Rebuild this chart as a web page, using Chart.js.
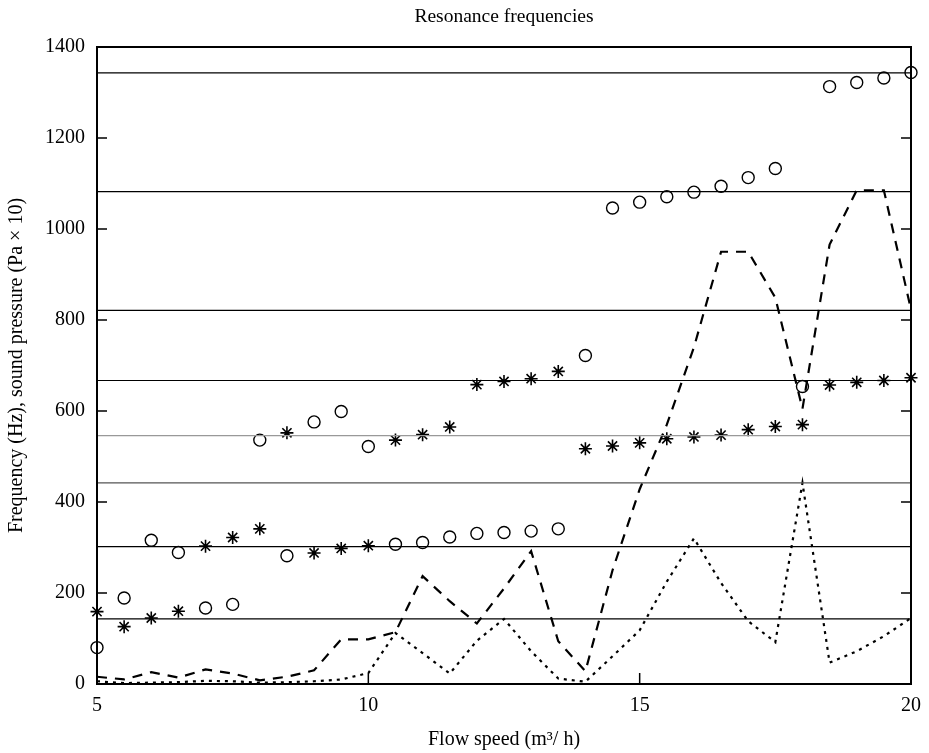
<!DOCTYPE html>
<html>
<head>
<meta charset="utf-8">
<script src="https://cdn.jsdelivr.net/npm/chart.js@4.4.1/dist/chart.umd.min.js"></script>
<style>
  body { margin: 0; background: #fff; }
</style>
</head>
<body>
<canvas id="resChart" width="929" height="753"></canvas>
<script>
// velocidad de flujo (m3/h)
const flowSpeed = [5, 5.5, 6, 6.5, 7, 7.5, 8, 8.5, 9, 9.5, 10, 10.5, 11, 11.5, 12, 12.5,
  13, 13.5, 14, 14.5, 15, 15.5, 16, 16.5, 17, 17.5, 18, 18.5, 19, 19.5, 20];

// frecuencias medidas (o)
const circleFreq = [80, 189, 316, 289, 167, 175, 536, 282, 576, 599, 522, 307, 311, 323, 331, 333,
  336, 341, 722, 1046, 1059, 1071, 1081, 1094, 1113, 1133, 654, 1313, 1322, 1332, 1344];

// frecuencias medidas (*)
const starFreq = [159, 126, 145, 160, 303, 322, 341, 552, 288, 298, 304, 536, 548, 565, 658, 665,
  671, 687, 517, 523, 530, 539, 543, 547, 559, 566, 570, 657, 663, 667, 673];

// presion sonora (Pa x 10), linea de trazos
const pressureDashed = [16, 10, 26, 14, 32, 23, 8, 16, 30, 98, 98, 114, 237, 182, 133, 210,
  292, 94, 28, 250, 428, 570, 740, 950, 950, 849, 605, 966, 1085, 1085, 823];

// presion sonora (Pa x 10), linea de puntos
const pressureDotted = [6, 2, 3, 4, 7, 6, 3, 4, 6, 10, 24, 112, 68, 23, 95, 143,
  72, 12, 5, 61, 118, 225, 320, 222, 138, 92, 442, 47, 72, 105, 145];

// frecuencias de resonancia (lineas horizontales)
const refLines = [143, 302, 442, 546, 667, 821, 1082, 1343];

const xTicks = [5, 10, 15, 20];
const yTicks = [0, 200, 400, 600, 800, 1000, 1200, 1400];

const serif = '"Liberation Serif", "DejaVu Serif", serif';
const refColors = ['#000', '#000', '#555', '#999', '#000', '#000', '#000', '#000'];

function toPoints(values) {
  return values.map((v, i) => ({ x: flowSpeed[i], y: v }));
}

const datasets = [];

refLines.forEach((v, i) => {
  datasets.push({
    data: [{ x: xTicks[0], y: v }, { x: xTicks[xTicks.length - 1], y: v }],
    showLine: true,
    borderColor: refColors[i],
    borderWidth: 1.2,
    pointRadius: 0
  });
});

datasets.push({
  data: toPoints(pressureDashed),
  showLine: true,
  borderColor: '#000',
  borderWidth: 2.2,
  borderDash: [10, 8],
  pointRadius: 0
});

datasets.push({
  data: toPoints(pressureDotted),
  showLine: true,
  borderColor: '#000',
  borderWidth: 2.2,
  borderDash: [3, 5],
  pointRadius: 0
});

datasets.push({
  data: toPoints(circleFreq),
  pointStyle: 'circle',
  pointRadius: 6,
  borderColor: '#000',
  borderWidth: 1.4,
  backgroundColor: 'rgba(0,0,0,0)',
  clip: false
});

datasets.push({
  data: toPoints(starFreq),
  pointStyle: 'star',
  pointRadius: 6.5,
  borderColor: '#000',
  borderWidth: 1.6,
  clip: false
});

// marco, marcas hacia adentro y titulo
const framePlugin = {
  id: 'frame',
  afterDraw(chart) {
    const { ctx, chartArea: a, scales } = chart;
    ctx.save();
    ctx.strokeStyle = '#000';
    ctx.lineWidth = 2;
    ctx.strokeRect(a.left, a.top, a.right - a.left, a.bottom - a.top);

    ctx.lineWidth = 1.5;
    ctx.beginPath();
    yTicks.slice(1, -1).forEach(v => {
      const y = scales.y.getPixelForValue(v);
      ctx.moveTo(a.left, y);
      ctx.lineTo(a.left + 10, y);
      ctx.moveTo(a.right, y);
      ctx.lineTo(a.right - 10, y);
    });
    xTicks.slice(1, -1).forEach(v => {
      const x = scales.x.getPixelForValue(v);
      ctx.moveTo(x, a.bottom);
      ctx.lineTo(x, a.bottom - 11);
    });
    ctx.stroke();

    ctx.fillStyle = '#000';
    ctx.font = '19.5px ' + serif;
    ctx.textAlign = 'center';
    ctx.textBaseline = 'middle';
    ctx.fillText('Resonance frequencies', (a.left + a.right) / 2, 17);
    ctx.restore();
  }
};

const ctx = document.getElementById('resChart');
const chart = new Chart(ctx, {
  type: 'scatter',
  data: { datasets },
  plugins: [framePlugin],
  options: {
    responsive: false,
    devicePixelRatio: 1,
    animation: false,
    layout: { padding: { top: 47, right: 18, left: 0, bottom: 0 } },
    plugins: {
      legend: { display: false },
      tooltip: { enabled: false }
    },
    scales: {
      x: {
        type: 'linear',
        min: 5,
        max: 20,
        afterBuildTicks: (s) => { s.ticks = xTicks.map(v => ({ value: v })); },
        afterFit: (s) => {
          s.height = 69;
          // sin relleno extra por la ultima etiqueta
          s.paddingLeft = 0;
          s.paddingRight = 0;
        },
        grid: { display: false, drawTicks: false },
        border: { display: false },
        ticks: {
          autoSkip: false,
          maxRotation: 0,
          padding: 10,
          color: '#000',
          font: { family: serif, size: 20 },
          callback: (v) => String(v)
        },
        title: {
          display: true,
          text: 'Flow speed (m³/ h)',
          color: '#000',
          padding: { top: 0, bottom: 1 },
          font: { family: serif, size: 20 }
        }
      },
      y: {
        type: 'linear',
        min: 0,
        max: 1400,
        afterBuildTicks: (s) => { s.ticks = yTicks.map(v => ({ value: v })); },
        afterFit: (s) => { s.width = 97; },
        grid: { display: false, drawTicks: false },
        border: { display: false },
        ticks: {
          padding: 12,
          color: '#000',
          font: { family: serif, size: 20 },
          callback: (v) => String(v)
        },
        title: {
          display: true,
          text: 'Frequency (Hz), sound pressure (Pa × 10)',
          color: '#000',
          padding: { top: 5, bottom: 0 },
          font: { family: serif, size: 20 }
        }
      }
    }
  }
});
</script>
</body>
</html>
